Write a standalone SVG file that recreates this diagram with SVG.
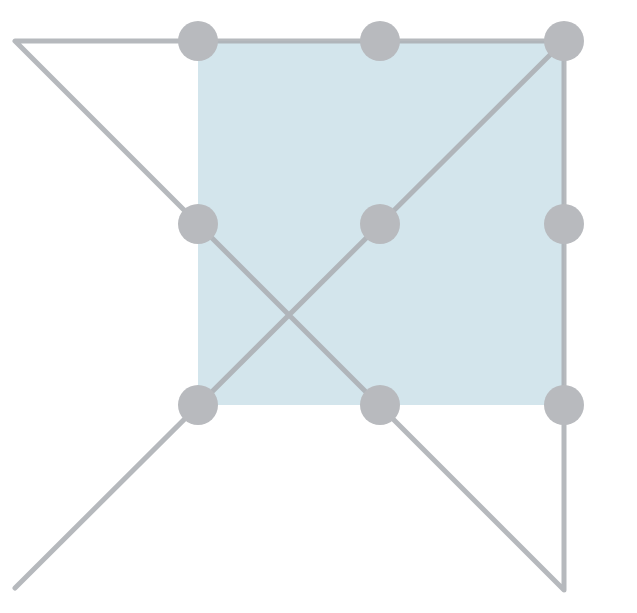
<svg xmlns="http://www.w3.org/2000/svg" width="637" height="613" viewBox="0 0 637 613">
<style>
.ln{fill:none;stroke:#a9adb1;stroke-width:5;stroke-linecap:round;stroke-linejoin:round;stroke-opacity:0.85}
.dot{fill:#b8babe}
</style>
<rect width="637" height="613" fill="#ffffff"/>
<rect id="square" x="198" y="41" width="366" height="364" fill="#d3e5ec"/>
<g id="connectors">
<polyline class="ln" points="15,588 564,41 564,590 15,41 564,41"/>
</g>
<g id="dot-1-1"><circle class="dot" cx="198" cy="41" r="20"/></g>
<g id="dot-1-2"><circle class="dot" cx="380" cy="41" r="20"/></g>
<g id="dot-1-3"><circle class="dot" cx="564" cy="41" r="20"/></g>
<g id="dot-2-1"><circle class="dot" cx="198" cy="224" r="20"/></g>
<g id="dot-2-2"><circle class="dot" cx="380" cy="224" r="20"/></g>
<g id="dot-2-3"><circle class="dot" cx="564" cy="224" r="20"/></g>
<g id="dot-3-1"><circle class="dot" cx="198" cy="405" r="20"/></g>
<g id="dot-3-2"><circle class="dot" cx="380" cy="405" r="20"/></g>
<g id="dot-3-3"><circle class="dot" cx="564" cy="405" r="20"/></g>
</svg>
